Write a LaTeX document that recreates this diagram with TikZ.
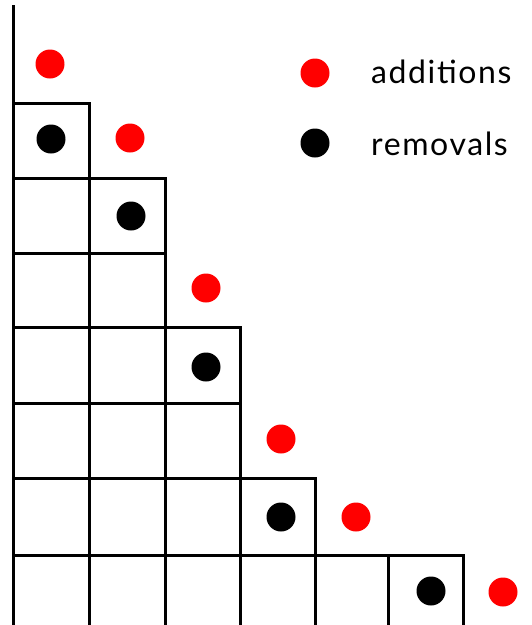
\documentclass[tikz,border=0pt]{standalone}
\usepackage{fontspec}
\setmainfont{Lato}
\newfontfamily\legendfont[LetterSpace=5]{Lato}
\begin{document}
\begin{tikzpicture}[x=1pt,y=-1pt,
  grid/.style={line width=3pt,line cap=rect},
  adddot/.style={circle,fill=red,inner sep=0pt,minimum size=29pt},
  remdot/.style={circle,fill=black,inner sep=0pt,minimum size=29pt},
  legendtext/.style={anchor=base west,inner sep=0pt,font=\legendfont\fontsize{32}{38}\selectfont}]
\useasboundingbox (0,0) rectangle (532,625);
% row boundaries of the diagram
\draw[grid] (13,103) -- (89,103);
\draw[grid] (13,178) -- (165,178);
\draw[grid] (13,253) -- (165,253);
\draw[grid] (13,327) -- (240,327);
\draw[grid] (13,403) -- (240,403);
\draw[grid] (13,478) -- (315,478);
\draw[grid] (13,555) -- (463,555);
% column boundaries
\draw[grid,line cap=butt] (13,5) -- (13,625);
\draw[grid,line cap=butt] (89,103) -- (89,625);
\draw[grid,line cap=butt] (165,178) -- (165,625);
\draw[grid,line cap=butt] (240,327) -- (240,625);
\draw[grid,line cap=butt] (315,478) -- (315,625);
\draw[grid,line cap=butt] (388,555) -- (388,625);
\draw[grid,line cap=butt] (463,555) -- (463,625);
% addable corners
\node[adddot] (a1) at (50,64) {};
\node[adddot] (a2) at (130,138) {};
\node[adddot] (a3) at (206,288) {};
\node[adddot] (a4) at (281,439) {};
\node[adddot] (a5) at (356,517) {};
\node[adddot] (a6) at (503,592) {};
% removable corners
\node[remdot] (r1) at (51,139) {};
\node[remdot] (r2) at (131,216) {};
\node[remdot] (r3) at (206,367) {};
\node[remdot] (r4) at (281,517) {};
\node[remdot] (r5) at (431,591) {};
% legend
\node[adddot] (la) at (315,73) {};
\node[remdot] (lr) at (315,143) {};
\node[legendtext] (ta) at (371,83) {additions};
\node[legendtext] (tr) at (371,155) {removals};
\end{tikzpicture}
\end{document}
